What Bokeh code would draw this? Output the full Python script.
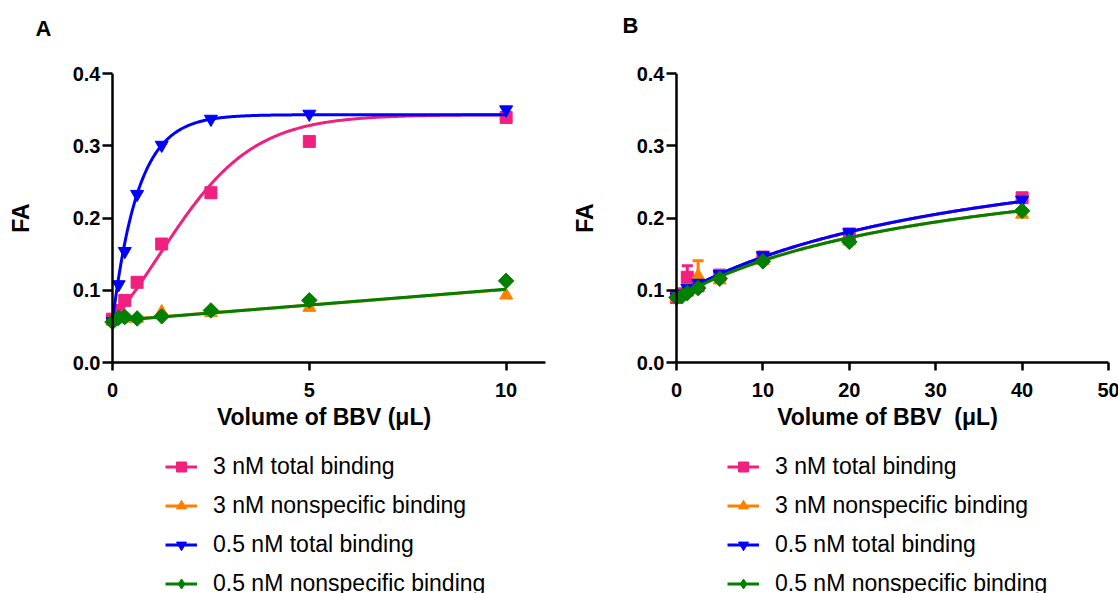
import numpy as np
from bokeh.plotting import figure
from bokeh.layouts import row, column
from bokeh.models import Legend, LegendItem, Range1d, PrintfTickFormatter, Span, Label
from bokeh.embed import file_html
from bokeh.resources import INLINE

FONT = "Liberation Sans"

# ---------------- data ----------------
series_labels = ["3 nM total binding", "3 nM nonspecific binding",
                 "0.5 nM total binding", "0.5 nM nonspecific binding"]
series_colors = ["#F0207F", "#FF8000", "#0000FF", "#008000"]

# Panel A: volume of BBV (uL) vs FA
a_x = [0, 0.156, 0.3125, 0.625, 1.25, 2.5, 5, 10]
a_total_3 = [0.060, 0.072, 0.086, 0.111, 0.164, 0.235, 0.306, 0.339]
a_nonspec_3 = [0.058, 0.060, 0.061, 0.061, 0.070, 0.069, 0.076, 0.093]
a_total_05 = [0.057, 0.108, 0.154, 0.233, 0.301, 0.337, 0.344, 0.350]
a_nonspec_05 = [0.056, 0.062, 0.063, 0.061, 0.064, 0.072, 0.086, 0.113]

# Panel B
b_x = [0, 0.625, 1.25, 2.5, 5, 10, 20, 40]
b_total_3 = [0.090, 0.095, 0.118, 0.106, 0.121, 0.146, 0.178, 0.228]
b_total_3_err = [0, 0, 0.016, 0, 0, 0, 0, 0]
b_nonspec_3 = [0.090, 0.093, 0.097, 0.120, 0.114, 0.141, 0.168, 0.205]
b_nonspec_3_err = [0, 0, 0, 0.021, 0, 0, 0, 0]
b_total_05 = [0.091, 0.095, 0.103, 0.110, 0.122, 0.148, 0.180, 0.225]
b_nonspec_05 = [0.090, 0.092, 0.096, 0.103, 0.116, 0.140, 0.167, 0.210]

# fitted-curve parameters
fitA_total_3 = dict(bottom=-0.05, top=0.343, x50=1.16, slope=1.19)      # sigmoid
fitA_nonspec_3 = dict(y0=0.058, slope=0.0043)                              # straight line
fitA_total_05 = dict(y0=0.057, plateau=0.343, k=1.53)                      # one-phase association
fitA_nonspec_05 = dict(y0=0.0575, slope=0.0044)                            # straight line
fitB_total = dict(y0=0.092, bmax=0.2495, kd=36.2)                          # hyperbola
fitB_nonspec = dict(y0=0.090, bmax=0.219, kd=32.9)                         # hyperbola

a_xticks = [0, 5, 10]
b_xticks = [0, 10, 20, 30, 40, 50]
y_ticks = [0.0, 0.1, 0.2, 0.3, 0.4]


def sigmoid(x, bottom, top, x50, slope):
    return bottom + (top - bottom) / (1 + np.exp((x50 - x) / slope))


def assoc(x, y0, plateau, k):
    return y0 + (plateau - y0) * (1 - np.exp(-k * x))


def linear(x, y0, slope):
    return y0 + slope * x


def hyper(x, y0, bmax, kd):
    return y0 + bmax * x / (kd + x)


TOP_H = 40

# ---------------- styling helpers ----------------
def make_fig(xmax, axis_px, pad_px, border_left, border_right):
    scale = axis_px / xmax
    p = figure(
        frame_width=axis_px + pad_px, frame_height=289,
        x_range=Range1d(-pad_px / scale, xmax), y_range=Range1d(0, 0.4),
        min_border_left=border_left, min_border_right=border_right,
        min_border_top=73 - TOP_H, min_border_bottom=80,
        output_backend="svg", toolbar_location=None,
    )
    p.outline_line_color = None
    p.xgrid.visible = False
    p.ygrid.visible = False
    p.background_fill_color = "white"
    p.border_fill_color = "white"
    for ax in [p.xaxis[0], p.yaxis[0]]:
        ax.axis_line_width = 2.5
        ax.axis_line_color = "black"
        ax.major_tick_line_width = 2.5
        ax.major_tick_line_color = "black"
        ax.minor_tick_line_color = None
        ax.major_label_text_font = FONT
        ax.major_label_text_font_style = "bold"
        ax.major_label_text_font_size = "20px"
        ax.major_label_text_color = "black"
        ax.axis_label_text_font = FONT
        ax.axis_label_text_font_style = "bold"
        ax.axis_label_text_font_size = "23px"
        ax.axis_label_text_color = "black"
    p.xaxis.bounds = (0, xmax)
    p.xaxis.major_tick_out = 8
    p.xaxis.major_tick_in = 0
    p.yaxis.axis_line_color = None
    p.yaxis.major_tick_out = 0
    p.yaxis.major_tick_in = pad_px
    p.xaxis.major_label_standoff = 12
    p.yaxis.major_label_standoff = 2
    p.xaxis.axis_label_standoff = 4
    p.yaxis.axis_label_standoff = 36
    p.yaxis.ticker = y_ticks
    p.yaxis.formatter = PrintfTickFormatter(format="%.1f")
    p.yaxis.axis_label = "FA"
    p.add_layout(Span(location=0, dimension="height", line_color="black", line_width=2.5))
    return p


def letter_fig(width, letter, lx, ly):
    lf = figure(width=width, height=TOP_H, x_range=Range1d(0, 1), y_range=Range1d(0, 1),
                min_border=0, x_axis_location=None, y_axis_location=None,
                output_backend="svg", toolbar_location=None)
    lf.outline_line_color = None
    lf.xgrid.visible = False
    lf.ygrid.visible = False
    lf.add_layout(Label(x=lx, y=ly, x_units="screen", y_units="screen", text=letter,
                        text_font=FONT, text_font_style="bold", text_font_size="22px",
                        text_align="center", text_baseline="middle", text_color="black"))
    return lf


def add_series(p, xs, ys, curve_x, curve_y, color, marker, size, angle=0.0):
    lr = p.line(curve_x, curve_y, line_color=color, line_width=3)
    sr = p.scatter(xs, ys, marker=marker, size=size, angle=angle,
                   fill_color=color, line_color=color)
    return [lr, sr]


markers = ["square", "triangle", "inverted_triangle", "square"]
legend_markers = ["square", "triangle", "inverted_triangle", "diamond"]
sizes = [12, 13, 13, 11]
angles = [0, 0, 0, np.pi / 4]


def legend_fig(width, xs, ys_list, vx):
    """A figure that only shows the legend (its glyphs sit outside the visible range)."""
    lf = figure(width=width, height=593 - 73 - 289 - 80, x_range=Range1d(1e6, 1e6 + 1),
                y_range=Range1d(1e6, 1e6 + 1),
                min_border=0, x_axis_location=None, y_axis_location=None,
                output_backend="svg", toolbar_location=None)
    lf.outline_line_color = None
    lf.xgrid.visible = False
    lf.ygrid.visible = False
    items = []
    for i in range(4):
        lr = lf.line(xs, ys_list[i], line_color=series_colors[i], line_width=3)
        sr = lf.scatter(xs, ys_list[i], marker=legend_markers[i], size=sizes[i],
                        fill_color=series_colors[i], line_color=series_colors[i])
        items.append(LegendItem(label=series_labels[i], renderers=[lr, sr]))
    leg = Legend(items=items, location=(vx, -4), orientation="vertical",
                 glyph_width=32, glyph_height=25, label_height=25, spacing=12,
                 padding=0, margin=0, label_standoff=16,
                 border_line_color=None, background_fill_alpha=0,
                 label_text_font=FONT, label_text_font_size="23px",
                 label_text_color="black")
    lf.add_layout(leg, "center")
    return lf


# ---------------- panel A ----------------
pA = make_fig(11, 433, 10, 102, 23)
pA.xaxis.ticker = a_xticks
pA.xaxis.axis_label = "Volume of BBV (\u03bcL)"
cxA = np.linspace(0, 10, 400)
curvesA = [
    sigmoid(cxA, **fitA_total_3),
    linear(cxA, **fitA_nonspec_3),
    assoc(cxA, **fitA_total_05),
    linear(cxA, **fitA_nonspec_05),
]
ysA = [a_total_3, a_nonspec_3, a_total_05, a_nonspec_05]
for i in range(4):
    add_series(pA, a_x, ysA[i], cxA, curvesA[i], series_colors[i],
               markers[i], sizes[i], angles[i])
lA = legend_fig(568, a_x, ysA, 165)
tA = letter_fig(568, "A", 43, TOP_H - 28)

# ---------------- panel B ----------------
pB = make_fig(50, 432, 10, 95, 13)
pB.xaxis.ticker = b_xticks
pB.xaxis.axis_label = "Volume of BBV\u00a0 (\u03bcL)"
cxB = np.linspace(0, 40, 400)
curvesB = [
    hyper(cxB, **fitB_total),
    hyper(cxB, **fitB_nonspec),
    hyper(cxB, **fitB_total),
    hyper(cxB, **fitB_nonspec),
]
ysB = [b_total_3, b_nonspec_3, b_total_05, b_nonspec_05]
errsB = [b_total_3_err, b_nonspec_3_err, None, None]
for i in range(4):
    if errsB[i] is not None:
        ex = [x for x, e in zip(b_x, errsB[i]) if e > 0]
        ey = [y for y, e in zip(ysB[i], errsB[i]) if e > 0]
        et = [y + e for y, e in zip(ysB[i], errsB[i]) if e > 0]
        pB.segment(ex, ey, ex, et, line_color=series_colors[i], line_width=3)
        pB.scatter(ex, et, marker="dash", size=11, line_color=series_colors[i], line_width=3)
    add_series(pB, b_x, ysB[i], cxB, curvesB[i], series_colors[i],
               markers[i], sizes[i], angles[i])
lB = legend_fig(550, b_x, ysB, 159)
tB = letter_fig(550, "B", 62, TOP_H - 25)

layout = column(row(tA, tB), row(pA, pB), row(lA, lB))
open("out.html", "w").write(file_html(layout, INLINE))
